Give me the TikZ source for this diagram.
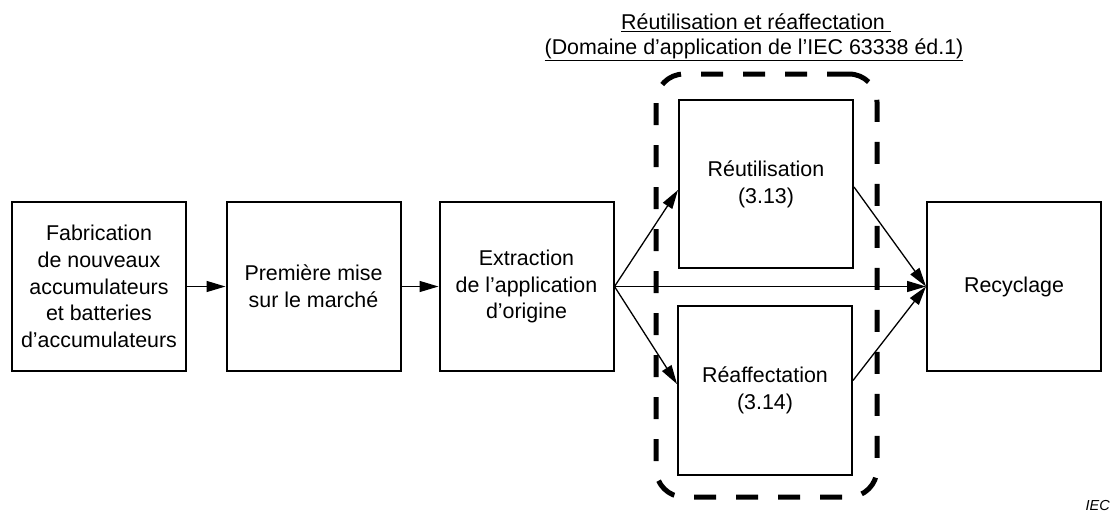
\documentclass[tikz,border=0pt]{standalone}
\usepackage{fontspec}
\setmainfont{Liberation Sans}
\usetikzlibrary{arrows.meta}

\begin{document}
\begin{tikzpicture}[x=1pt,y=-1pt,
  box/.style={draw, line width=2pt, inner sep=0pt, minimum width=174pt,
    minimum height=169pt, align=center,
    font=\fontsize{21.4}{26.8}\selectfont},
  flow/.style={-{Triangle[length=19pt,width=11pt]}, line width=1.3pt},
  scopeframe/.style={draw, line width=5pt, dash pattern=on 22pt off 20pt,
    rounded corners=28pt, inner sep=0pt, minimum width=221pt,
    minimum height=423pt},
  heading/.style={anchor=base, inner sep=0pt, font=\fontsize{21.4}{25}\selectfont},
]
\useasboundingbox (0,0) rectangle (1112,512);

% scope of reuse and repurposing
\node[scopeframe] (scope) at (766.5,285.5) {};

% process boxes
\node[box] (make)  at (99,286.5)   {Fabrication\\de nouveaux\\accumulateurs\\et batteries\\d’accumulateurs};
\node[box] (market) at (313.5,286.5) {Première mise\\sur le marché};
\node[box] (remove) at (526.5,286.5) {Extraction\\de l’application\\d’origine};
\node[box, minimum height=168pt] (reuse) at (766,184) {Réutilisation\\(3.13)};
\node[box] (repurp) at (765,390.5) {Réaffectation\\(3.14)};
\node[box] (recyc) at (1014,286.5) {Recyclage};

% heading above the scope
\node[heading] (title1) at (756,29.5) {\underline{Réutilisation et réaffectation\ }};
\node[heading] (title2) at (754,54.5) {\underline{(Domaine d’application de l’IEC 63338 éd.1)}};

% connectors
\draw[flow] (make.east) -- (market.west);
\draw[flow] (market.east) -- (remove.west);
\draw[flow] (remove.east) -- ([yshift=-6pt]reuse.west);
\draw[flow] (remove.east) -- ([yshift=6.5pt]repurp.west);
\draw[flow] (remove.east) -- (recyc.west);
\draw[flow] ([yshift=-3pt]reuse.east) -- (recyc.west);
\draw[flow] ([yshift=10pt]repurp.east) -- (recyc.west);

% source mark
\node[anchor=base east, inner sep=0pt, font=\fontsize{14.5}{17}\selectfont\itshape] (iec) at (1110,510.5) {IEC};
\end{tikzpicture}
\end{document}
